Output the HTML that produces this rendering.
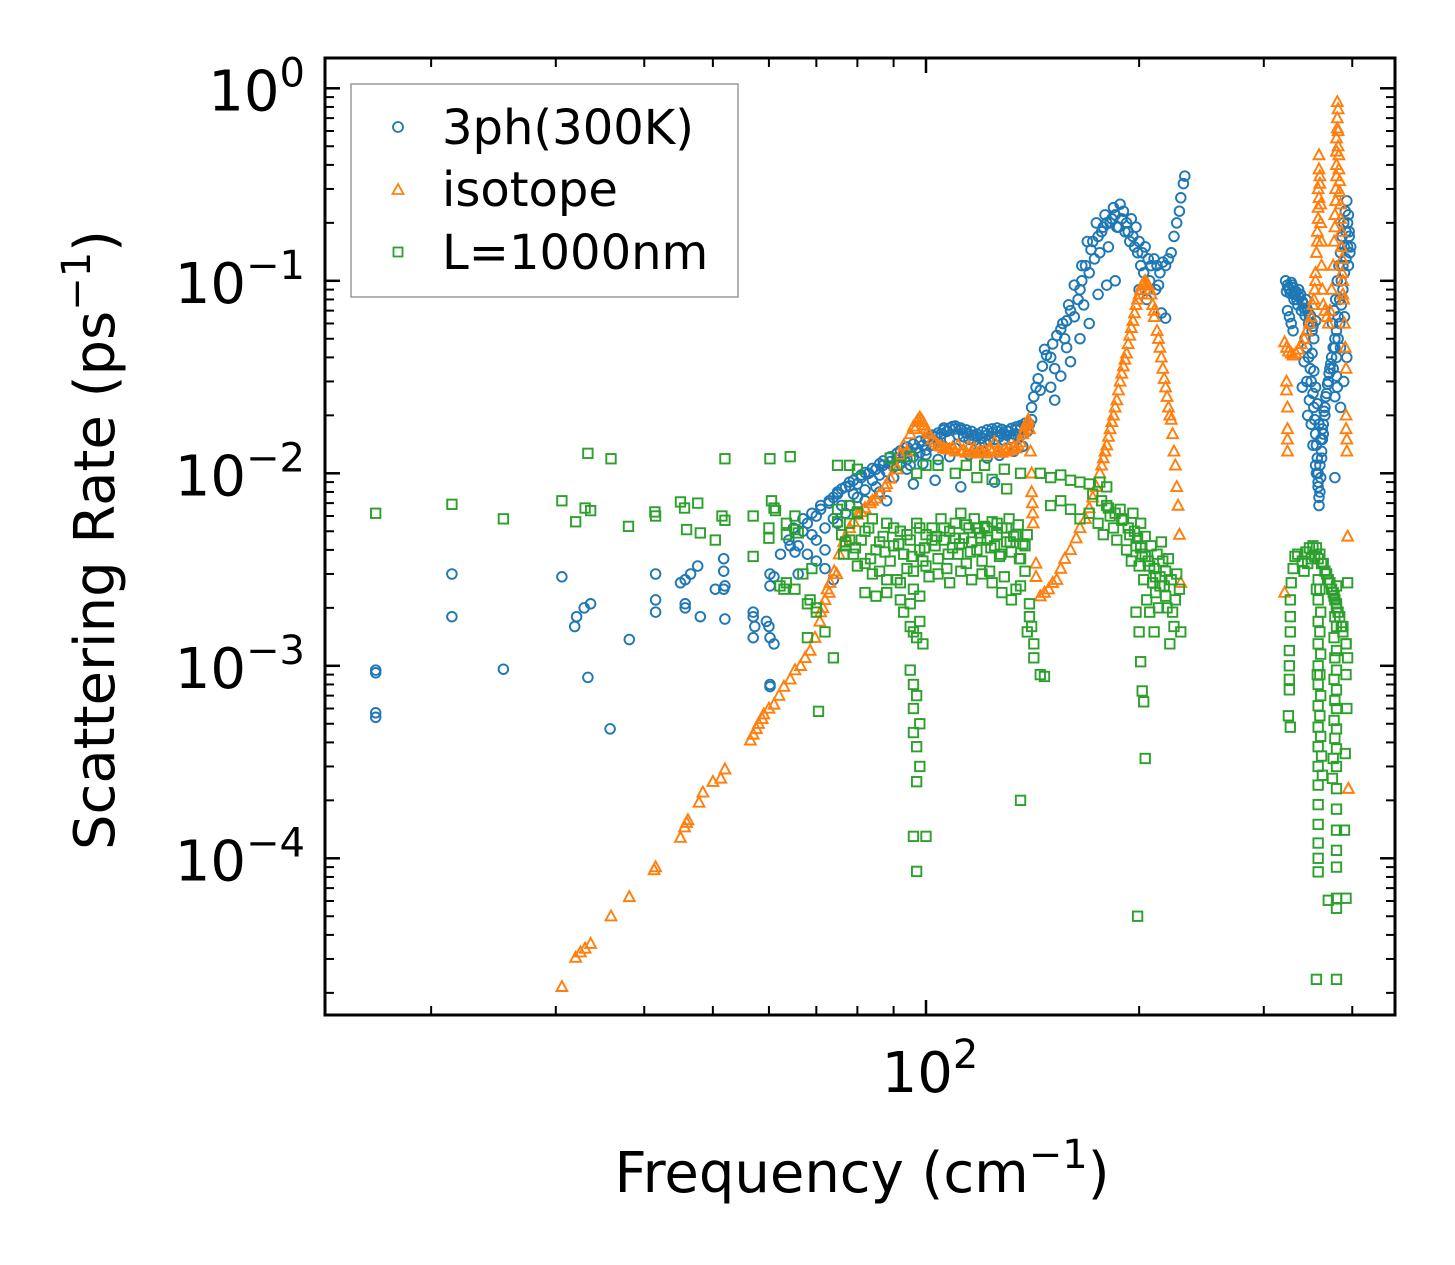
<!DOCTYPE html>
<html><head><meta charset="utf-8">
<style>
body{margin:0;background:#fff;}
svg{display:block;font-family:"DejaVu Sans","Liberation Sans",sans-serif;}
</style></head>
<body>
<svg id="chart" width="1455" height="1265" viewBox="0 0 1455 1265" xmlns="http://www.w3.org/2000/svg">
<rect x="0" y="0" width="1455" height="1265" fill="#fff"/>
<g id="marks"></g>
<g id="axes"></g>
<g id="legend">
  <rect x="351" y="84" width="387" height="213" fill="#fff" fill-opacity="0.8" stroke="#999" stroke-width="1.5"/>
  <circle cx="398" cy="127" r="5" fill="none" stroke="#1f77b4" stroke-width="1.8"/>
  <text x="442" y="144" font-size="48">3ph(300K)</text>
  <polygon points="398,184 403.5,194 392.5,194" fill="none" stroke="#ff7f0e" stroke-width="1.8"/>
  <text x="442" y="206" font-size="48">isotope</text>
  <rect x="393.5" y="247.5" width="9" height="9" fill="none" stroke="#2ca02c" stroke-width="1.8"/>
  <text x="442" y="269" font-size="48">L=1000nm</text>
</g>
<text x="862" y="1192" font-size="56" text-anchor="middle">Frequency (cm<tspan dy="-24" font-size="40">−1</tspan><tspan dy="24">)</tspan></text>
<text transform="translate(114,540) rotate(-90)" font-size="56" text-anchor="middle">Scattering Rate (ps<tspan dy="-24" font-size="40">−1</tspan><tspan dy="24">)</tspan></text>
</svg>
<script>
// ---- data ----
const blueFreq = [16.7,16.7,16.7,16.7,21.4,21.4,25.3,30.6,31.9,32.1,32.9,33.6,33.3,35.8,38.1,41.5,41.5,41.5,45,45.7,46.5,47.6,45.7,45.7,48,50.4,51.8,51.8,52,51.8,52,57,57,57.3,57,59.5,60,60.2,61,60.2,61,60.2,60.2,60.2,64.3,62.3,65.3,
64,66,67,68,69,70,70,71,72,72,73,74,74,75,76,77,77,78,79,80,81,82,83,84,85,86,87,88,89,90,91,92,93,94,95,96,97,98,99,100,101,102,103,104,105,106,107,108,109,110,111,112,113,114,115,116,117,118,119,120,121,122,123,124,125,126,127,128,129,130,131,132,133,134,135,136,137,138,139,140,
80,85,90,95,100,110,120,130,88,96,103,112,125,70,72,74,68,66,
65,67,69,71,73,75,76,78,79,81,82,84,86,87,89,91,92,94,96,98,100,102,104,106,108,110,112,114,116,118,120,122,124,126,128,130,132,134,136,138,
75,78,82,86,90,94,99,104,108,115,118,122,127,133,137,
141,141,142,143,144,145,146,147,148,150,151,152,155,157,158,160,162,164,165,166,167,168,170,171,172,173,175,176,177,178,180,181,183,184,185,186,188,189,190,192,193,195,196,198,200,202,204,206,208,210,212,214,216,218,220,222,224,226,228,229,231,232,
158,160,165,170,175,180,185,200,205,215,218,155,150,152,
153,156,159,162,166,169,174,179,182,187,191,194,197,199,201,203,207,211,213,
322,324,326,328,330,332,334,336,338,340,342,344,346,348,350,352,355,324,326,328,330,
323,325,327,329,331,333,335,337,339,341,343,345,347,349,351,353,
343,345,347,349,350,352,353,354,355,356,357,358,358,359,359,360,361,362,363,364,366,368,370,372,374,376,378,346,348,350,352,355,345,340,342,
351,353,355,357,359,361,363,365,367,369,371,373,356,358,360,362,364,366,
375,377,379,381,383,385,387,389,391,393,395,396,394,392,390,388,386,384,382,380,380,378,385,390,395,397,378,
376,378,380,382,384,386,388,390,392,394,396,398,381,385,389,393];
const blueRate = [0.00095,0.00092,0.00057,0.00054,0.0030,0.0018,0.00096,0.0029,0.0016,0.0018,0.0020,0.0021,0.00087,0.00047,0.00137,0.0030,0.0022,0.0019,0.0027,0.0028,0.003,0.0033,0.0021,0.002,0.0018,0.0025,0.0036,0.0031,0.0026,0.0025,0.00175,0.0019,0.0018,0.0016,0.0014,0.0017,0.0016,0.0014,0.0013,0.003,0.0029,0.0026,0.0008,0.00078,0.0042,0.0038,0.0039,
0.0045,0.0042,0.005,0.0055,0.0048,0.006,0.0035,0.0065,0.0052,0.004,0.007,0.0075,0.0058,0.008,0.0068,0.0085,0.0062,0.009,0.0078,0.0088,0.0095,0.0082,0.01,0.0092,0.0105,0.0098,0.011,0.0102,0.0115,0.0108,0.012,0.0112,0.0125,0.0118,0.013,0.0122,0.0135,0.0128,0.014,0.0132,0.015,0.014,0.0155,0.0145,0.016,0.0172,0.0165,0.015,0.0175,0.017,0.0158,0.0168,0.0155,0.0162,0.015,0.0158,0.0148,0.0155,0.0142,0.0152,0.0145,0.0158,0.0148,0.0162,0.015,0.0165,0.0155,0.016,0.0148,0.0158,0.0165,0.0152,0.016,0.0168,0.0155,0.017,0.016,0.0175,0.0165,0.018,
0.0075,0.0085,0.0095,0.011,0.0125,0.0135,0.013,0.0135,0.0072,0.0088,0.0092,0.0085,0.009,0.0045,0.0032,0.0028,0.0038,0.003,
0.0052,0.0058,0.0062,0.0068,0.0072,0.0078,0.0083,0.0086,0.0092,0.0098,0.0101,0.0106,0.0112,0.0116,0.0122,0.0127,0.0131,0.0137,0.0142,0.0147,0.0152,0.0158,0.0162,0.0168,0.0172,0.0176,0.0172,0.0168,0.0165,0.016,0.0164,0.0168,0.017,0.0172,0.0169,0.0166,0.0171,0.0174,0.0177,0.0182,
0.0055,0.0068,0.0072,0.008,0.0095,0.0105,0.0112,0.0118,0.0122,0.0125,0.0128,0.012,0.0124,0.013,0.0138,
0.019,0.022,0.025,0.028,0.031,0.027,0.036,0.044,0.041,0.04,0.047,0.035,0.056,0.05,0.062,0.07,0.065,0.08,0.09,0.1,0.075,0.12,0.11,0.145,0.16,0.13,0.17,0.14,0.18,0.19,0.2,0.15,0.21,0.24,0.22,0.19,0.25,0.21,0.23,0.2,0.18,0.21,0.17,0.19,0.16,0.14,0.15,0.13,0.12,0.13,0.12,0.11,0.125,0.12,0.13,0.14,0.17,0.2,0.23,0.27,0.32,0.35,
0.045,0.038,0.05,0.06,0.085,0.095,0.1,0.09,0.08,0.068,0.064,0.032,0.028,0.024,
0.052,0.06,0.075,0.095,0.12,0.16,0.2,0.22,0.2,0.19,0.18,0.16,0.15,0.14,0.12,0.11,0.1,0.09,0.095,
0.1,0.095,0.09,0.098,0.092,0.085,0.08,0.09,0.085,0.078,0.072,0.08,0.07,0.065,0.06,0.058,0.062,0.07,0.065,0.06,0.055,
0.088,0.092,0.086,0.095,0.08,0.088,0.075,0.082,0.07,0.076,0.066,0.072,0.06,0.066,0.055,0.05,
0.05,0.045,0.04,0.035,0.03,0.026,0.022,0.019,0.016,0.014,0.012,0.01,0.0085,0.0075,0.0068,0.008,0.0095,0.012,0.015,0.018,0.022,0.026,0.03,0.035,0.04,0.045,0.05,0.02,0.024,0.018,0.014,0.011,0.03,0.028,0.038,
0.042,0.034,0.028,0.023,0.018,0.015,0.017,0.021,0.025,0.029,0.033,0.037,0.01,0.009,0.011,0.013,0.016,0.02,
0.06,0.07,0.08,0.1,0.12,0.14,0.17,0.2,0.23,0.26,0.22,0.18,0.15,0.13,0.11,0.09,0.075,0.06,0.05,0.04,0.032,0.025,0.045,0.065,0.12,0.14,0.0095,
0.035,0.045,0.055,0.065,0.08,0.1,0.12,0.15,0.18,0.2,0.17,0.15,0.028,0.022,0.03,0.04];

const orangeFreq = [30.6,32,32.5,33,33.6,35.9,38.1,41.3,41.5,45,45.6,45.9,46.1,47.8,48.4,50,51.3,52,56.5,57,57.6,58,58.7,59,60,61,62,63,64.3,65.3,66.5,67.5,68.6,69.7,70.8,71.5,72,72.5,73.2,74.2,75.4,76.5,78,80,82,83.4,85,86,87.5,89,90.5,92,93,95,96,97,98,99,100,101,102,103,104,105,106,108,110,111,112,114,116,118,120,122,124,125,126,128,130,132,134,136,137,138,139,140,140.5,141,141,141.3,141.5,141.7,143,143,145,147,149,151,153,155,157,160,163,165,168,170,172,174,176,178,180,182,184,186,188,190,192,194,196,198,200,202,204,206,208,209,210,212,214,216,218,220,222,223,224,225,226,227,228,229,
71,73,74.8,77,79,81,84,88,91,94,96.5,97.5,98.5,99.5,100.5,107,109,113,115,117,119,121,123,127,129,131,133,135,137.5,138.5,139.5,
177,179,181,183,185,187,189,191,193,195,197,199,201,203,205,207,210,213,215,217,219,221,
321,323,325,328,330,333,336,339,342,345,348,350,323,323,324,324,324,324,
352,354,355,356,357,358,358,359,359,360,361,362,363,364,366,368,
353,355,357,358,359,360,361,362,
370,372,374,376,377,378,379,380,380,381,381,382,383,384,385,386,387,388,389,390,391,392,392,392,393,393,394,395,321,
378,379,380,380,381,382,382,383,384,385,386,387,388];
const orangeRate = [2.15e-5,3.05e-5,3.25e-5,3.4e-5,3.6e-5,5e-5,6.3e-5,8.7e-5,9e-5,1.28e-4,1.45e-4,1.53e-4,1.58e-4,1.95e-4,2.2e-4,2.5e-4,2.6e-4,2.9e-4,4.1e-4,4.4e-4,4.7e-4,5e-4,5.3e-4,5.6e-4,6e-4,6.3e-4,7e-4,7.8e-4,8.5e-4,9.5e-4,1.0e-3,1.1e-3,1.2e-3,1.4e-3,1.7e-3,2.0e-3,2.2e-3,2.5e-3,2.7e-3,3.1e-3,3.8e-3,4.4e-3,5.2e-3,6.1e-3,6.6e-3,7e-3,7.4e-3,7.8e-3,8.5e-3,9.4e-3,1.1e-2,1.25e-2,1.4e-2,1.6e-2,1.75e-2,1.85e-2,1.95e-2,1.85e-2,1.7e-2,1.6e-2,1.5e-2,1.45e-2,1.4e-2,1.38e-2,1.35e-2,1.33e-2,1.3e-2,1.4e-2,1.3e-2,1.28e-2,1.3e-2,1.27e-2,1.28e-2,1.27e-2,1.3e-2,1.45e-2,1.3e-2,1.28e-2,1.3e-2,1.32e-2,1.35e-2,1.45e-2,1.6e-2,1.75e-2,1.85e-2,1.7e-2,1.3e-2,1.0e-2,8e-3,7e-3,6.2e-3,5.5e-3,3.4e-3,2.9e-3,2.3e-3,2.4e-3,2.5e-3,2.7e-3,2.8e-3,3.2e-3,3.6e-3,4.0e-3,4.6e-3,5.2e-3,5.8e-3,6.6e-3,7.5e-3,8.5e-3,1.0e-2,1.2e-2,1.4e-2,1.7e-2,2.0e-2,2.4e-2,3.0e-2,3.6e-2,4.2e-2,5.2e-2,6.2e-2,7.5e-2,8.5e-2,9.5e-2,0.1,0.095,0.085,0.075,0.065,0.055,0.045,0.035,0.028,0.022,0.019,0.016,0.013,0.011,0.0085,0.0068,0.0048,0.0027,
1.9e-3,2.4e-3,3.0e-3,4.7e-3,5.6e-3,6.3e-3,7.2e-3,8.8e-3,1.05e-2,1.3e-2,1.7e-2,1.9e-2,1.9e-2,1.78e-2,1.65e-2,1.34e-2,1.36e-2,1.32e-2,1.38e-2,1.35e-2,1.3e-2,1.32e-2,1.35e-2,1.3e-2,1.33e-2,1.36e-2,1.38e-2,1.4e-2,1.65e-2,1.8e-2,1.9e-2,
1.1e-2,1.3e-2,1.55e-2,1.85e-2,2.2e-2,2.7e-2,3.3e-2,3.9e-2,4.7e-2,5.7e-2,6.8e-2,8e-2,9e-2,0.098,0.097,0.09,0.07,0.05,0.04,0.031,0.025,0.02,
0.048,0.045,0.043,0.042,0.041,0.042,0.044,0.047,0.05,0.055,0.06,0.065,0.03,0.027,0.022,0.017,0.015,0.013,
0.075,0.09,0.11,0.14,0.18,0.24,0.3,0.38,0.45,0.32,0.2,0.12,0.09,0.075,0.07,0.065,
0.08,0.1,0.16,0.21,0.27,0.35,0.25,0.16,
0.06,0.07,0.09,0.12,0.16,0.22,0.3,0.4,0.55,0.7,0.85,0.6,0.45,0.33,0.25,0.18,0.13,0.1,0.08,0.06,0.045,0.035,0.02,0.017,0.015,0.013,0.0047,0.00023,0.0024,
0.19,0.26,0.35,0.47,0.62,0.78,0.5,0.38,0.29,0.21,0.15,0.11,0.085];

const greenFreq = [16.7,21.4,25.3,30.6,32,33.3,33.6,33,35.9,38,41.4,41.5,45,45.6,47.6,45.9,48,50.4,52,51.5,52,57,57,60,60.2,60.5,61,61.3,60,64.3,63.5,63.5,65.3,65.3,66,63,65.3,67,68.6,68,70.5,70,
69,62.2,63.5,68,70,72,74,75,77,78,80,
75,76,77,78,79,80,81,82,83,84,85,86,87,88,89,90,91,92,93,94,95,96,97,98,99,100,101,102,103,104,105,106,107,108,109,110,111,112,113,114,115,116,117,118,119,120,121,122,123,124,125,126,127,128,129,130,131,132,133,134,135,136,137,138,139,
78,82,86,90,94,98,102,106,110,114,118,122,126,130,134,138,80,84,88,92,96,100,104,108,112,116,120,124,128,132,136,
76.5,79.5,83.5,87.5,91.5,95.5,99.5,103.5,107.5,111.5,115.5,119.5,123.5,127.5,131.5,135.5,
82,85,88,92,95,98,93,95,96,97,98,99,
95,96,97,96,98,96,97,98,97,96,100,97,
140,141,142,142,140,139,145,136,147,
75,78,80,89,91,95,97,100,104,110,114,118,121,124,129,130,136,145,150,155,160,165,170,176,180,
150,155,160,165,170,175,178,180,182,184,186,188,190,192,194,195,196,198,200,201,202,203,204,205,206,207,208,209,210,210,211,212,213,214,215,216,217,218,219,220,221,222,224,225,226,228,229,
172,177,181,185,189,193,197,199,201,204,207,211,214,218,223,
198,200,201,202,203,204,199,
340,344,348,352,356,360,364,368,372,376,380,384,388,392,394,
342,346,350,354,358,362,366,370,374,378,382,386,
330,328,327,327,327,326,326,326,326,325,327,332,335,
358,358,358,358,358,358,358,358,358,358,358,358,358,358,358,358,356,357,
360,361,360,361,360,361,360,361,362,363,
380,380,380,380,380,380,380,380,380,380,380,380,380,380,380,
377,378,377,378,377,378,377,378,376,375,
370,380,380,356,380,392,390,391,392,394,392,388,393];
const greenRate = [0.0062,0.0069,0.0058,0.0072,0.0056,0.0127,0.0064,0.0066,0.0119,0.0053,0.0063,0.006,0.0071,0.0066,0.007,0.0051,0.0049,0.0045,0.0119,0.006,0.0057,0.006,0.0037,0.0052,0.0119,0.0072,0.0066,0.0064,0.0046,0.0122,0.0055,0.0048,0.006,0.0051,0.0049,0.0025,0.0025,0.003,0.0022,0.0014,0.00058,0.002,
0.0032,0.0026,0.0027,0.0021,0.0019,0.0015,0.0011,0.0056,0.0044,0.0068,0.0063,
0.0065,0.0048,0.0042,0.0055,0.0038,0.0062,0.0045,0.0034,0.0052,0.0058,0.004,0.0031,0.0047,0.0055,0.0035,0.0042,0.0028,0.005,0.0038,0.0032,0.0045,0.0025,0.0055,0.004,0.0035,0.0048,0.0029,0.0052,0.0042,0.0036,0.0058,0.0045,0.0032,0.005,0.0041,0.0055,0.0038,0.0062,0.0046,0.0034,0.0052,0.0044,0.0058,0.004,0.0049,0.0035,0.0053,0.0045,0.0031,0.0056,0.0042,0.0048,0.0037,0.0052,0.0029,0.0044,0.0058,0.0039,0.0047,0.0025,0.0054,0.0036,0.0043,0.0031,0.0048,
0.0045,0.005,0.0044,0.0052,0.0048,0.0052,0.0045,0.0052,0.0046,0.0054,0.0052,0.0052,0.0055,0.0052,0.0048,0.0042,0.0033,0.003,0.0028,0.0027,0.0031,0.0033,0.003,0.0027,0.0031,0.0028,0.003,0.0027,0.0024,0.0022,0.0026,
0.0038,0.0041,0.0036,0.0039,0.0043,0.0037,0.0041,0.0047,0.0038,0.0043,0.0039,0.0046,0.0041,0.0038,0.0044,0.0036,
0.0024,0.0023,0.0024,0.0022,0.0021,0.0023,0.0019,0.0016,0.0015,0.0014,0.0017,0.0013,
0.00095,0.0008,0.0007,0.0006,0.0005,0.00045,0.00038,0.0003,0.00025,0.00013,0.00013,0.0000855,
0.0018,0.0016,0.0013,0.0011,0.0021,0.0015,0.0009,0.0002,0.00088,
0.011,0.011,0.0105,0.012,0.011,0.0122,0.01,0.011,0.011,0.01,0.011,0.0095,0.011,0.0093,0.0105,0.0083,0.01,0.01,0.0095,0.0098,0.0092,0.009,0.0088,0.009,0.0085,
0.0068,0.0072,0.0065,0.0058,0.0062,0.0055,0.0048,0.0068,0.006,0.0052,0.0045,0.0065,0.0058,0.004,0.0048,0.0035,0.0062,0.0042,0.0033,0.0055,0.0038,0.0028,0.0047,0.0022,0.0035,0.0019,0.0042,0.0027,0.0015,0.0032,0.0024,0.0038,0.002,0.0029,0.0044,0.0035,0.0026,0.0031,0.002,0.0036,0.0013,0.0028,0.0016,0.0022,0.003,0.0025,0.0015,
0.0078,0.0072,0.0066,0.0062,0.0057,0.0052,0.005,0.0046,0.0041,0.0037,0.0033,0.0029,0.0026,0.0023,0.0019,
0.0019,0.0015,0.00105,0.00074,0.00065,0.00033,0.00005,
0.0035,0.0039,0.0041,0.0042,0.0041,0.0038,0.0034,0.003,0.0027,0.0024,0.0021,0.0018,0.0015,0.0013,0.0011,
0.0031,0.0034,0.0036,0.0037,0.0036,0.0034,0.0031,0.0028,0.0025,0.0022,0.0019,0.0016,
0.0032,0.0027,0.0022,0.0018,0.0015,0.0012,0.001,0.00085,0.00075,0.00055,0.00048,0.0037,0.0038,
0.0028,0.0022,0.0017,0.0013,0.001,0.0008,0.00062,0.00048,0.00038,0.0003,0.00024,0.00019,0.00015,0.00012,0.0001,0.000085,0.0025,0.0009,
0.0025,0.0019,0.0015,0.00115,0.0009,0.0007,0.00055,0.00043,0.00034,0.00027,
0.0026,0.002,0.0016,0.0012,0.00095,0.00075,0.0006,0.00047,0.00037,0.0003,0.00023,0.00018,0.00014,0.00011,0.00009,
0.0023,0.0018,0.0014,0.0011,0.00085,0.00066,0.00052,0.00042,0.00033,0.00026,
0.0000605,0.000062,0.000055,0.0000235,0.0000235,0.000062,0.00014,0.00035,0.0009,0.0027,0.0013,0.0016,0.0006];

const xMajorTicks = [100];
const xMinorTicks = [20,30,40,50,60,70,80,90,200,300,400];
const yMajorExps = [-4,-3,-2,-1,0];

// ---- axes ----
const L=325,R=1395,T=58,B=1015;
const X0=926, XD=708, Y0=88.3, YD=192.5;
function xs(f){return X0+XD*Math.log10(f/100);}
function ys(v){return Y0-YD*Math.log10(v);}
const NS="http://www.w3.org/2000/svg";
function mk(tag,attrs,parent){const e=document.createElementNS(NS,tag);for(const k in attrs)e.setAttribute(k,attrs[k]);parent.appendChild(e);return e;}
const marks=document.getElementById('marks');
const axes=document.getElementById('axes');

const clip=mk('clipPath',{id:'pc'},marks);
mk('rect',{x:L,y:T,width:R-L,height:B-T},clip);
const gB=mk('g',{'clip-path':'url(#pc)'},marks);


const gO=mk('g',{'clip-path':'url(#pc)'},marks);


const gG=mk('g',{'clip-path':'url(#pc)'},marks);



for(let i=0;i<blueFreq.length;i++){
  const c=mk('circle',{cx:xs(blueFreq[i]).toFixed(1),cy:ys(blueRate[i]).toFixed(1),r:4.8,fill:'none',stroke:'#1f77b4','stroke-width':1.9},gB);
  
  
}
for(let i=0;i<orangeFreq.length;i++){
  const x=xs(orangeFreq[i]),y=ys(orangeRate[i]);
  const p=mk('polygon',{points:`${x},${y-5.8} ${x+5.4},${y+4.2} ${x-5.4},${y+4.2}`,fill:'none',stroke:'#ff7f0e','stroke-width':1.9},gO);
  
  
}
for(let i=0;i<greenFreq.length;i++){
  const x=xs(greenFreq[i]),y=ys(greenRate[i]);
  const s=mk('rect',{x:x-4.7,y:y-4.7,width:9.4,height:9.4,fill:'none',stroke:'#2ca02c','stroke-width':1.9},gG);
  
  
}

// frame
const fr=mk('rect',{x:L,y:T,width:R-L,height:B-T,fill:'none',stroke:'#000','stroke-width':3},axes);


// x ticks
xMajorTicks.forEach(f=>{const x=xs(f);
  mk('line',{x1:x,y1:B,x2:x,y2:B-15,stroke:'#000','stroke-width':2.5},axes);
  mk('line',{x1:x,y1:T,x2:x,y2:T+15,stroke:'#000','stroke-width':2.5},axes);
  const t=mk('text',{x:x+4,y:1092,'font-size':56,'text-anchor':'middle'},axes);
  
  
  t.innerHTML='10<tspan dy="-24" font-size="40">'+Math.round(Math.log10(f))+'</tspan>';
});
xMinorTicks.forEach(f=>{const x=xs(f);
  mk('line',{x1:x,y1:B,x2:x,y2:B-9,stroke:'#000','stroke-width':2},axes);
  mk('line',{x1:x,y1:T,x2:x,y2:T+9,stroke:'#000','stroke-width':2},axes);
});
// y ticks
yMajorExps.forEach(e=>{const y=ys(Math.pow(10,e));
  mk('line',{x1:L,y1:y,x2:L+15,y2:y,stroke:'#000','stroke-width':2.5},axes);
  mk('line',{x1:R,y1:y,x2:R-15,y2:y,stroke:'#000','stroke-width':2.5},axes);
  const t=mk('text',{x:305,y:y+22,'font-size':56,'text-anchor':'end'},axes);
  
  
  t.innerHTML='10<tspan dy="-24" font-size="40">'+(e<0?'−':'')+Math.abs(e)+'</tspan>';
});
for(let e=-5;e<=0;e++){for(let m=2;m<=9;m++){const v=m*Math.pow(10,e);const y=ys(v);
  if(y<T+1||y>B-1)continue;
  mk('line',{x1:L,y1:y,x2:L+9,y2:y,stroke:'#000','stroke-width':2},axes);
  mk('line',{x1:R,y1:y,x2:R-9,y2:y,stroke:'#000','stroke-width':2},axes);
}}
</script>
</body></html>
